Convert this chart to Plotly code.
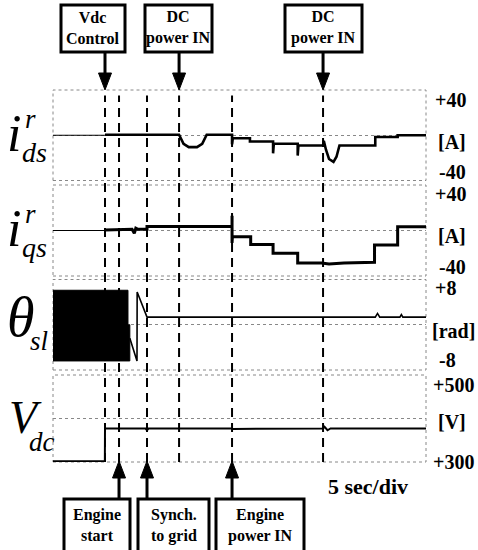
import plotly.graph_objects as go

# ---------------- data (time in seconds, 5 s/div, 10 div) ----------------
event_t = [6.97, 8.85, 12.6, 16.9, 24.0, 36.2]          # Vdc ctrl, engine start, synch, DC in, engine in, DC in
top_labels = ["Vdc<br>Control", "DC<br>power IN", "DC<br>power IN"]
top_label_t = [6.97, 16.9, 36.2]
bottom_labels = ["Engine<br>start", "Synch.<br>to grid", "Engine<br>power IN"]
bottom_label_t = [8.85, 12.6, 24.0]

# i_ds^r [A]
ids_pre_t = [0, 6.97]
ids_pre_v = [0, 0]
ids_t = [6.97, 16.9, 17.5, 18.2, 19.3, 20.0, 20.6, 24.0, 24.0, 24.1, 26.4, 26.4, 29.5, 29.5,
         29.6, 32.8, 32.8, 32.9, 36.2, 36.3, 36.6, 37.0, 37.6, 38.0, 38.4, 43.2, 43.2, 46.2, 46.2, 50.0]
ids_v = [0.5, 0.5, -7.5, -10.5, -10.5, -7.5, 0.5, 0.5, -8.0, -2.7, -2.7, -5.5, -5.5, -16.0,
         -7.5, -7.5, -18.0, -9.0, -9.0, -5.0, -13.0, -21.0, -23.5, -19.0, -9.0, -9.0, -1.5, -1.5, 0.0, 0.0]

# i_qs^r [A]
iqs_pre_t = [0, 6.97]
iqs_pre_v = [0, 0]
iqs_t = [6.97, 10.6, 10.9, 11.1, 11.4, 12.6, 12.6, 24.0, 24.0, 24.0, 24.05, 26.5, 26.5, 29.5, 29.5,
         32.8, 32.8, 36.0, 37.0, 39.0, 43.1, 43.1, 46.2, 46.2, 50.0]
iqs_v = [0.5, 1.0, -2.5, 2.0, 1.0, 1.0, 3.5, 3.5, 13.0, -11.0, -5.5, -5.5, -12.3, -12.3, -20.0,
         -20.0, -28.5, -28.5, -29.5, -28.5, -28.0, -12.7, -12.7, 3.3, 3.3]

# theta_sl [rad]: dense oscillation envelope, then last wraps and settling
th_box_t = [0, 10.05, 10.05, 10.3, 10.3, 0]
th_box_v = [6.1, 6.1, 0.0, 0.0, -6.4, -6.4]
th_t = [10.3, 11.26, 11.28, 12.6, 43.2, 43.5, 43.8, 46.5, 46.7, 46.9, 50.0]
th_v = [-2.4, -6.4, 5.8, 1.35, 1.35, 2.0, 1.35, 1.35, 1.8, 1.35, 1.35]

# Vdc [V]
vdc_t = [0, 6.95, 6.97, 12.4, 12.6, 12.8, 24.0, 24.1, 36.2, 36.4, 36.8, 37.2, 50.0]
vdc_v = [302, 302, 377, 377, 373, 377, 377, 376, 377, 381, 373, 377, 377]

# panel layout in page pixels (top, bottom)
PX_L, PX_R, PX_T, PX_B = 53, 426, 90, 462
panels_px = [(90, 180.5), (185, 276), (279.5, 370), (375, 462)]
y_ranges = [[-40, 40], [-40, 40], [-8, 8], [300, 500]]
y_centers = [0, 0, 0, 400]
T_MAX = 50.0


def fx(xp):
    return (xp - PX_L) / (PX_R - PX_L)


def fy(yp):
    return (PX_B - yp) / (PX_B - PX_T)


PX_PER_S = (PX_R - PX_L) / T_MAX

fig = go.Figure()
black = "black"

fig.add_trace(go.Scatter(x=ids_pre_t, y=ids_pre_v, mode="lines", line=dict(color=black, width=1), yaxis="y"))
fig.add_trace(go.Scatter(x=ids_t, y=ids_v, mode="lines", line=dict(color=black, width=2.6), yaxis="y"))
fig.add_trace(go.Scatter(x=iqs_pre_t, y=iqs_pre_v, mode="lines", line=dict(color=black, width=1), yaxis="y2"))
fig.add_trace(go.Scatter(x=iqs_t, y=iqs_v, mode="lines", line=dict(color=black, width=3), yaxis="y2"))
fig.add_trace(go.Scatter(x=th_box_t, y=th_box_v, mode="lines", fill="toself", fillcolor=black,
                         line=dict(color=black, width=1), yaxis="y3"))
fig.add_trace(go.Scatter(x=th_t, y=th_v, mode="lines", line=dict(color=black, width=1.6), yaxis="y3"))
fig.add_trace(go.Scatter(x=vdc_t, y=vdc_v, mode="lines", line=dict(color=black, width=2), yaxis="y4"))

layout = dict(
    width=478, height=550,
    margin=dict(l=PX_L, r=478 - PX_R, t=PX_T, b=550 - PX_B, autoexpand=False),
    paper_bgcolor="white", plot_bgcolor="white",
    showlegend=False,
    xaxis=dict(range=[0, T_MAX], showticklabels=False, ticks="", showgrid=False,
               zeroline=False, showline=False, anchor="y4", domain=[0, 1]),
)
for i, ((t, b), rng, c) in enumerate(zip(panels_px, y_ranges, y_centers)):
    name = "yaxis" if i == 0 else f"yaxis{i + 1}"
    layout[name] = dict(domain=[fy(b), fy(t)], range=rng, anchor="x",
                        showticklabels=False, ticks="", tickvals=[c],
                        showgrid=True, gridcolor="#888", griddash="dot", gridwidth=1,
                        zeroline=False, showline=False)
fig.update_layout(**layout)

shapes = []
# dotted panel frames
for (t, b) in panels_px:
    shapes.append(dict(type="rect", xref="paper", yref="paper", x0=0, x1=1, y0=fy(b), y1=fy(t),
                       line=dict(color="#888", width=1, dash="dot"), layer="below"))
# dashed event lines
for et in event_t:
    shapes.append(dict(type="line", xref="x", yref="paper", x0=et, x1=et, y0=0, y1=0.985,
                       line=dict(color=black, width=2, dash="9px,6px")))

# boxes
top_boxes_px = [(61, 125), (145, 212), (285, 362)]
bottom_boxes_px = [(64, 130), (138, 209), (216, 304)]
for (a, b) in top_boxes_px:
    shapes.append(dict(type="rect", xref="paper", yref="paper", x0=fx(a), x1=fx(b), y0=fy(52), y1=fy(5),
                       line=dict(color=black, width=3)))
for (a, b) in bottom_boxes_px:
    shapes.append(dict(type="rect", xref="paper", yref="paper", x0=fx(a), x1=fx(b), y0=fy(560), y1=fy(499),
                       line=dict(color=black, width=3)))

# arrows (shaft + triangular head)
hw = 6.5 / PX_PER_S
for et in top_label_t:
    shapes.append(dict(type="line", xref="x", yref="paper", x0=et, x1=et, y0=fy(52), y1=fy(75),
                       line=dict(color=black, width=3)))
    shapes.append(dict(type="path", xref="x", yref="paper",
                       path=f"M {et - hw},{fy(73)} L {et + hw},{fy(73)} L {et},{fy(90)} Z",
                       fillcolor=black, line=dict(color=black, width=1)))
for et in bottom_label_t:
    shapes.append(dict(type="line", xref="x", yref="paper", x0=et, x1=et, y0=fy(499), y1=fy(476),
                       line=dict(color=black, width=3)))
    shapes.append(dict(type="path", xref="x", yref="paper",
                       path=f"M {et - hw},{fy(478)} L {et + hw},{fy(478)} L {et},{fy(461)} Z",
                       fillcolor=black, line=dict(color=black, width=1)))
fig.update_layout(shapes=shapes)

SERIF = "Liberation Serif"
ann = []


def text(s, xp, yp, size, bold=True, italic=False, xanchor="center"):
    ann.append(dict(text=s, xref="paper", yref="paper", x=fx(xp), y=fy(yp), xanchor=xanchor,
                    yanchor="middle", showarrow=False,
                    font=dict(family=SERIF, size=size, color=black,
                              weight="bold" if bold else "normal",
                              style="italic" if italic else "normal")))


def base(s, xp, baseline, size, bold=False, italic=True):
    # place by baseline
    text(s, xp, baseline - 0.3375 * size, size, bold=bold, italic=italic)


# box texts
for (a, b), s in zip(top_boxes_px, top_labels):
    text(s, (a + b) / 2, 28, 16)
for (a, b), s in zip(bottom_boxes_px, bottom_labels):
    text(s, (a + b) / 2, 525, 16)

# right-side scale labels
right_labels = [("+40", 100), ("[A]", 142), ("-40", 172),
                ("+40", 194), ("[A]", 236), ("-40", 267),
                ("+8", 288), ("[rad]", 331), ("-8", 360),
                ("+500", 385), ("[V]", 422), ("+300", 462)]
right_x = [433, 436, 437, 433, 436, 437, 433, 430, 437, 431, 436, 431]
for (s, yp), xp in zip(right_labels, right_x):
    text(s, xp, yp, 20, xanchor="left")

text("5 sec/div", 368, 486, 22)

# left signal names
base("i", 14, 151, 52)
base("r", 30, 128, 27)
base("ds", 34, 162, 28)
base("i", 14, 246, 52)
base("r", 30, 223, 27)
base("qs", 34, 257, 28)
base("θ", 21, 336, 56)
base("sl", 39, 350, 27)
base("V", 25, 433, 46)
base("dc", 42, 451, 27)

fig.update_layout(annotations=ann)
fig.write_html("out.html", config={"displayModeBar": False},
               post_script="document.body.style.margin='0px';")
